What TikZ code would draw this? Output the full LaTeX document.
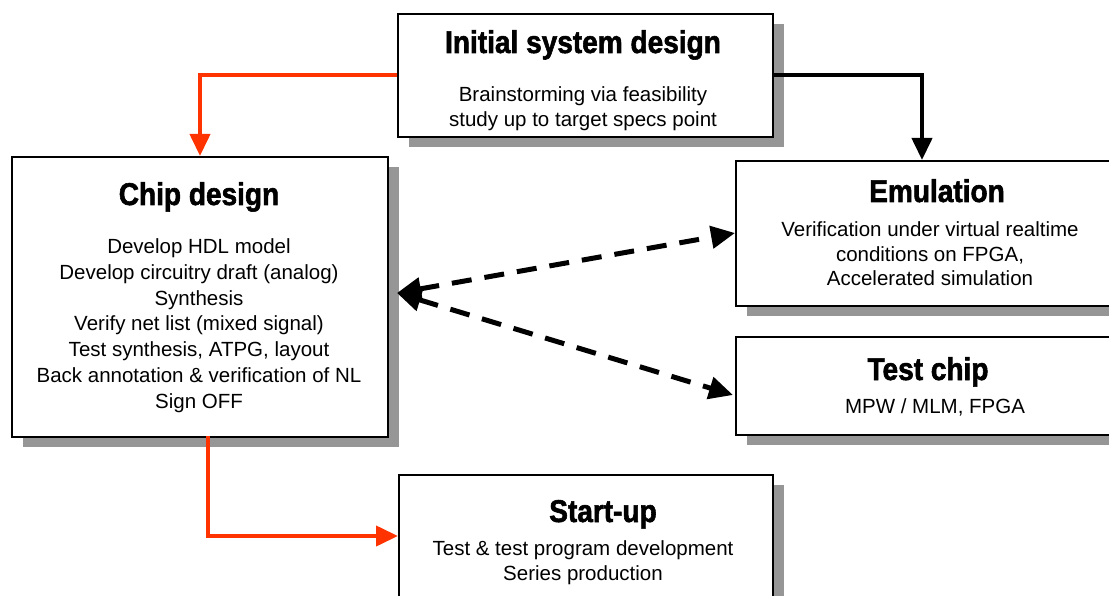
\documentclass[tikz,border=0pt]{standalone}
\usepackage{fontspec}
\setmainfont{Liberation Sans}
\newfontfamily\titlefont[FakeStretch=0.89, BoldFeatures={FakeBold=1.8}]{Liberation Sans}
\usetikzlibrary{arrows.meta,shadows}
\definecolor{shadowgray}{RGB}{150,150,150}
\definecolor{arroworange}{RGB}{255,51,0}
\begin{document}
\begin{tikzpicture}[x=1pt,y=-1pt,
  box/.style={draw=black, line width=2pt, fill=white, inner sep=0pt, anchor=north west,
    drop shadow={shadow xshift=11pt, shadow yshift=-10pt, fill=shadowgray, opacity=1}},
  titletext/.style={anchor=base, inner sep=0pt, font=\titlefont\bfseries\fontsize{31.5}{31.5}\selectfont},
  bodytext/.style={anchor=base, inner sep=0pt, align=center, font=\fontsize{20.5}{25.7}\selectfont},
  orangearrow/.style={draw=arroworange, line width=4pt, -{Triangle[length=22pt,width=20pt]}},
  blackarrow/.style={draw=black, line width=4pt, -{Triangle[length=22pt,width=20pt]}},
  dasharrow/.style={draw=black, line width=5pt, dash pattern=on 20pt off 13pt,
    {Triangle[length=24pt,width=22pt]}-{Triangle[length=24pt,width=22pt]}}]
\path[use as bounding box, clip] (0,0) rectangle (1109,596);
\fill[white] (0,0) rectangle (1109,596);

% boxes
\node[box, minimum width=375pt, minimum height=123pt] (init) at (397,13) {};
\node[box, minimum width=376pt, minimum height=280pt] (chip) at (11,156) {};
\node[box, minimum width=400pt, minimum height=145pt] (emu) at (735,160) {};
\node[box, minimum width=400pt, minimum height=98pt] (test) at (735,336) {};
\node[box, minimum width=374pt, minimum height=150pt] (start) at (398,474) {};

% texts (multi-line nodes: base = baseline of last line)
\node[titletext] (initT) at (583,53) {Initial system design};
\node[bodytext] (initB) at (583,127) {Brainstorming via feasibility\\study up to target specs point};
\node[titletext] (chipT) at (199,205) {Chip design};
\node[bodytext] (chipB) at (199,408) {Develop HDL model\\Develop circuitry draft (analog)\\Synthesis\\Verify net list (mixed signal)\\Test synthesis, ATPG, layout\\Back annotation \& verification of NL\\Sign OFF};
\node[titletext] (emuT) at (937,202) {Emulation};
\node[bodytext, font=\fontsize{20.5}{24.5}\selectfont] (emuB) at (930,286) {Verification under virtual realtime\\conditions on FPGA,\\Accelerated simulation};
\node[titletext] (testT) at (928,380) {Test chip};
\node[bodytext] (testB) at (935,413) {MPW / MLM, FPGA};
\node[titletext] (startT) at (603,522) {Start-up};
\node[bodytext, font=\fontsize{20.5}{25}\selectfont] (startB) at (583,580) {Test \& test program development\\Series production};

% connector end points
\coordinate (emuIn) at (922,160);
\coordinate (chipOut) at (208,436);
\coordinate (startIn) at (398,536);
\coordinate (chipR) at (397,293);
\coordinate (emuL) at (735,233);
\coordinate (testL) at (733,395);

% connectors
\draw[orangearrow] (init.west) -| (chip.north);
\draw[blackarrow] (init.east) -| (emuIn);
\draw[orangearrow] (chipOut) |- (startIn);
\draw[dasharrow] (chipR) -- (emuL);
\draw[dasharrow] (chipR) -- (testL);
\end{tikzpicture}
\end{document}
